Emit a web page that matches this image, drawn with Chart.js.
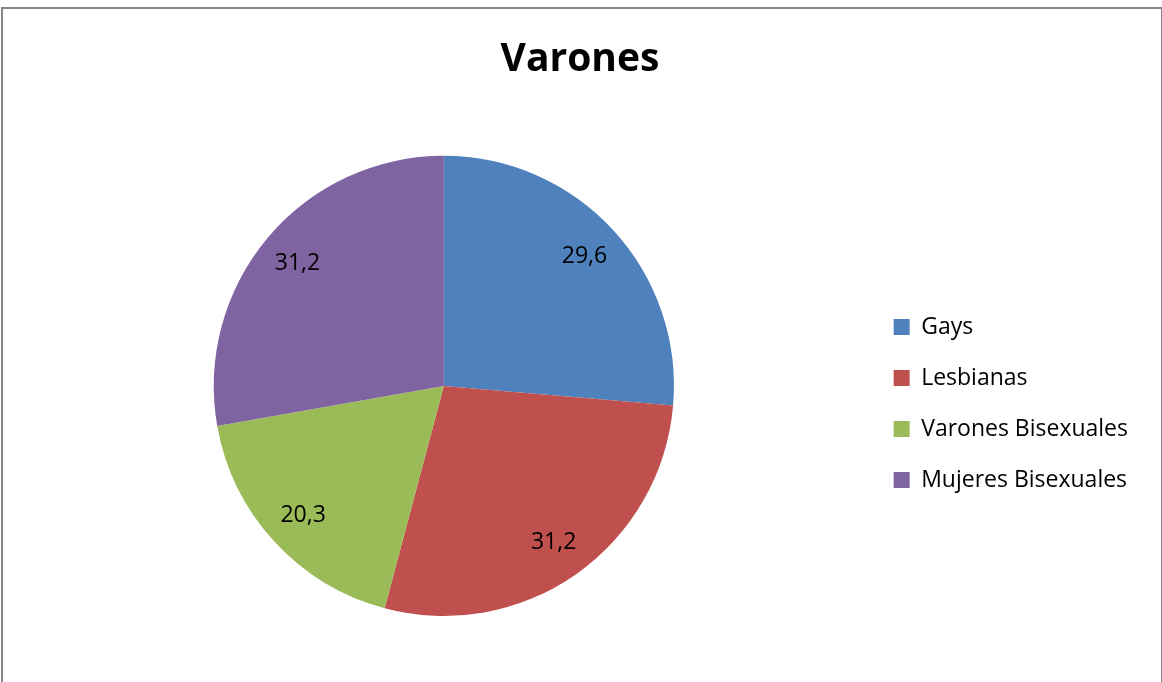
<!DOCTYPE html>
<html>
<head>
<meta charset="utf-8">
<script src="https://cdn.jsdelivr.net/npm/chart.js@4"></script>
<style>
  body { margin: 0; background: #fff; }
  #wrap { position: relative; width: 1162px; height: 682px; }
  #frame { position: absolute; left: 1px; top: 7px; width: 1158px; height: 700px;
           border: 2px solid #888; border-bottom: none; }
</style>
</head>
<body>
<div id="wrap">
  <canvas id="pie" width="1162" height="682"></canvas>
  <div id="frame"></div>
</div>
<script>
  // data
  const categories = ["Gays", "Lesbianas", "Varones Bisexuales", "Mujeres Bisexuales"];
  const values = [29.6, 31.2, 20.3, 31.2];
  const colors = ["#4F81BD", "#C0504D", "#9BBB59", "#8064A2"];
  const chartTitle = "Varones";

  const fontFamily = "'Open Sans', sans-serif";

  // draws the value inside each slice, excel style ("29,6")
  const sliceLabels = {
    id: "sliceLabels",
    afterDatasetsDraw(chart) {
      const ctx = chart.ctx;
      const meta = chart.getDatasetMeta(0);
      ctx.save();
      ctx.font = "23px " + fontFamily;
      ctx.fillStyle = "#000";
      ctx.textAlign = "center";
      ctx.textBaseline = "middle";
      meta.data.forEach((arc, i) => {
        const mid = (arc.startAngle + arc.endAngle) / 2;
        const r = arc.outerRadius * 0.83;
        const x = arc.x + Math.cos(mid) * r;
        const y = arc.y + Math.sin(mid) * r;
        ctx.fillText(values[i].toFixed(1).replace(".", ","), x, y);
      });
      ctx.restore();
    }
  };

  const ctx = document.getElementById("pie").getContext("2d");
  const chart = new Chart(ctx, {
    type: "pie",
    data: {
      labels: categories,
      datasets: [{
        data: values,
        backgroundColor: colors,
        borderWidth: 0
      }]
    },
    options: {
      responsive: false,
      animation: false,
      layout: { padding: { top: 8, bottom: 66, left: 22, right: 24 } },
      plugins: {
        title: {
          display: true,
          text: chartTitle,
          color: "#000",
          font: { family: fontFamily, size: 39, weight: "bold", lineHeight: 1.2 },
          padding: { top: 28, bottom: 73 }
        },
        legend: {
          position: "right",
          // empty title only pushes the items down to the middle
          title: { display: true, text: " ", font: { size: 1, lineHeight: 1 }, padding: 91 },
          labels: {
            color: "#000",
            boxWidth: 16,
            boxHeight: 16,
            padding: 28,
            font: { family: fontFamily, size: 23 }
          }
        },
        tooltip: { enabled: false }
      }
    },
    plugins: [sliceLabels]
  });
</script>
</body>
</html>
